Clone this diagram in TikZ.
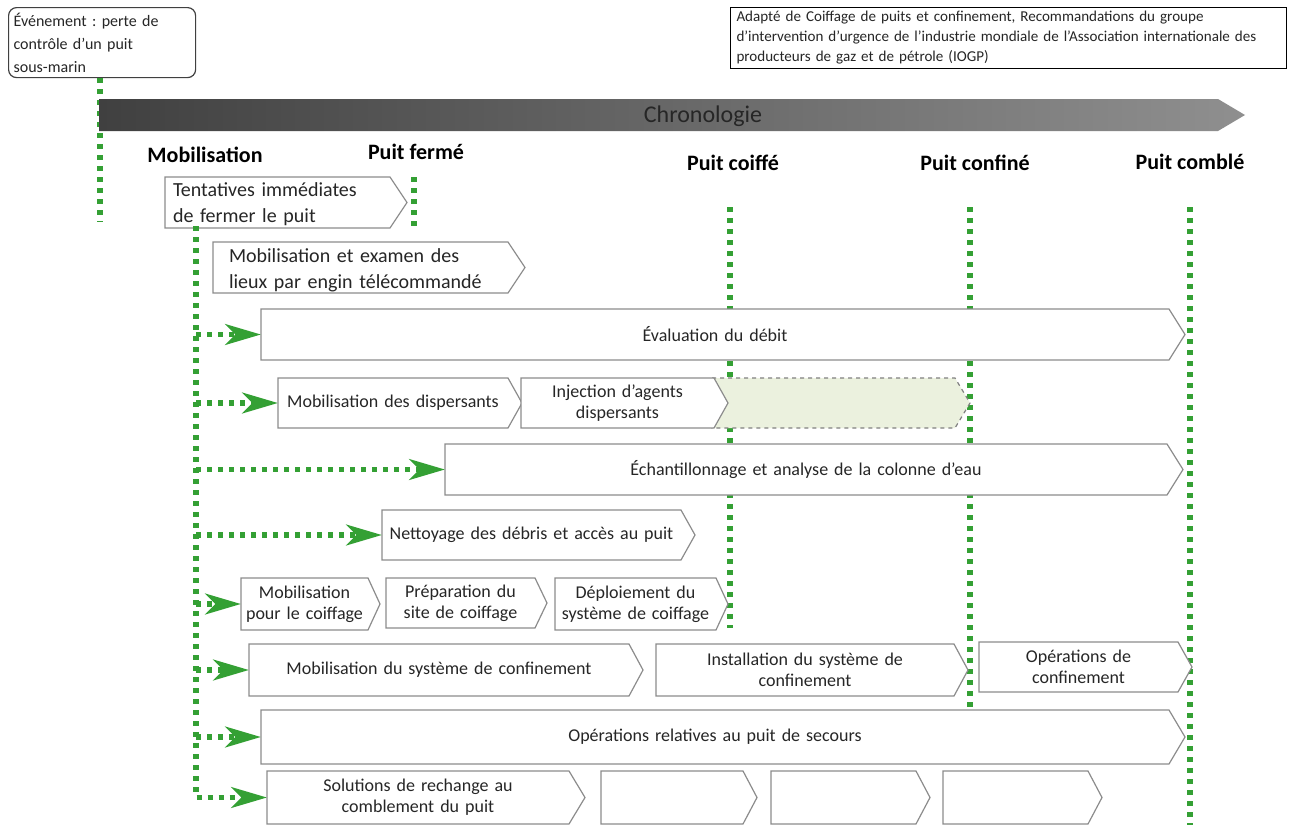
\documentclass[tikz,border=0pt]{standalone}
\usepackage{fontspec}
\setmainfont{Carlito}
\usetikzlibrary{arrows.meta}
\definecolor{grn}{RGB}{52,160,52}
\definecolor{boxgray}{RGB}{140,140,140}
\definecolor{txt}{RGB}{38,38,38}
\definecolor{lightgrn}{RGB}{235,241,222}
\definecolor{chrL}{RGB}{64,64,64}
\definecolor{chrR}{RGB}{143,143,143}
\frenchspacing

\tikzset{
  chevline/.style={draw=boxgray, fill=white, line width=0.9pt, line join=miter},
  greenbox/.style={draw=gray, fill=lightgrn, dashed},
  chevtext/.style={inner xsep=3pt, inner ysep=0pt, align=center, text=txt,
    font=\fontsize{13.5}{16}\selectfont},
  dotline/.style={draw=grn, line width=4pt, dash pattern=on 3.75pt off 4.5pt},
  flow/.style={dotline, -{Stealth[length=27pt,width=16pt,inset=8pt,line width=0pt]}},
  mile/.style={font=\bfseries\fontsize{16.5}{19}\selectfont, text=black, inner sep=0pt},
}

\newcommand\chev[9][]{%
  \pgfmathsetmacro\chevtw{(#5-#7-#3-8)*0.75}%
  \pgfmathsetmacro\chevmh{(#6-#4)*0.75}%
  \draw[chevline,#1] (#3,#4) -- ({#5-#7},#4) -- (#5,{(#4+#6)/2}) -- ({#5-#7},#6) -- (#3,#6) -- cycle;
  \node[chevtext, text width=\chevtw pt, minimum height=\chevmh pt, #8] (#2) at ({(#3+#5-#7)/2},{(#4+#6)/2}) {#9};
}

\begin{document}
\begin{tikzpicture}[x=0.75pt, y=-0.75pt]
\useasboundingbox (0,0) rectangle (1297,825);
\fill[white] (0,0) rectangle (1297,825);

% event and source
\node[draw=chrL, rounded corners=6pt, line width=0.9pt, anchor=north west,
  minimum width=140.25pt, minimum height=52.5pt, text width=132.75pt,
  inner xsep=3.75pt, inner ysep=0pt, align=left, text=txt,
  font=\fontsize{12}{17.25}\selectfont] (event) at (8,7)
  {Événement : perte de\\contrôle d’un puit\\sous-marin};
\node[draw=black, line width=0.75pt, anchor=north west,
  minimum width=416.25pt, minimum height=45.75pt, text width=408pt,
  inner xsep=4.5pt, inner ysep=0pt, align=left, text=txt,
  font=\fontsize{11.3}{15}\selectfont] (source) at (730,7)
  {Adapté de Coiffage de puits et confinement, Recommandations du groupe\\
   d’intervention d’urgence de l’industrie mondiale de l’Association internationale des\\
   producteurs de gaz et de pétrole (IOGP)};

\coordinate (eventEnd) at (100,222);
\draw[dotline] (event.south -| eventEnd) -- (eventEnd);

% chronology bar
\shade[left color=chrL, right color=chrR] (99,99) -- (1218,99) -- (1245,115) -- (1218,131) -- (99,131) -- cycle;
\node[font=\fontsize{18}{20}\selectfont, text=txt] (chrono) at (703,116) {Chronologie};

% milestones
\node[mile] (mob) at (205,155) {Mobilisation};
\node[mile] (closed) at (416,152) {Puit fermé};
\node[mile] (capped) at (733,163) {Puit coiffé};
\node[mile] (contained) at (975,163) {Puit confiné};
\node[mile] (killed) at (1190,162) {Puit comblé};

\draw[dotline] (414,177) -- (414,230);
\draw[dotline] (730,207) -- (730,628);
\draw[dotline] (970,207) -- (970,768);
\draw[dotline] (1190,207) -- (1190,825);

\coordinate (trunkTop) at (196,226);

% boxes
\chev{tent}{165}{177}{407}{228}{17}{align=left, xshift=3pt, yshift=-1.5pt, font=\fontsize{15}{19.5}\selectfont}{Tentatives immédiates\\de fermer le puit}
\chev{rov}{213}{242}{525}{293}{17}{align=left, xshift=9pt, yshift=-2pt, font=\fontsize{15}{19.5}\selectfont}{Mobilisation et examen des\\lieux par engin télécommandé}
\chev{eval}{261}{309}{1185}{360}{16}{}{Évaluation du débit}
\chev[greenbox]{gbox}{712}{378}{970}{428}{15}{}{}
\chev{disp}{278}{378}{522}{428}{14}{}{Mobilisation des dispersants}
\chev{inj}{521}{378}{728}{428}{14}{}{Injection d’agents\\dispersants}
\chev{samp}{445}{444}{1183}{495}{16}{}{Échantillonnage et analyse de la colonne d’eau}
\chev{clean}{382}{510}{695}{560}{14}{}{Nettoyage des débris et accès au puit}
\chev{mobcap}{241}{578}{380}{630}{12}{}{Mobilisation\\pour le coiffage}
\chev{prepcap}{386}{578}{547}{628}{12}{}{Préparation du\\site de coiffage}
\chev{depcap}{555}{578}{728}{630}{12}{}{Déploiement du\\système de coiffage}
\chev{mobcont}{249}{644}{643}{696}{14}{}{Mobilisation du système de confinement}
\chev{instcont}{656}{644}{968}{696}{14}{}{Installation du système de\\confinement}
\chev{opcont}{979}{642}{1192}{692}{14}{}{Opérations de\\confinement}
\chev{relief}{261}{710}{1185}{764}{16}{}{Opérations relatives au puit de secours}
\chev{sol}{267}{771}{585}{824}{16}{}{Solutions de rechange au\\comblement du puit}
\chev{alta}{601}{771}{757}{824}{14}{}{}
\chev{altb}{771}{771}{930}{824}{14}{}{}
\chev{altc}{943}{771}{1102}{824}{14}{}{}

% flows from the trunk
\draw[flow] (trunkTop) -- (trunkTop |- sol.west) -- (sol.west);
\draw[flow] (trunkTop |- eval.west) -- (eval.west);
\draw[flow] (trunkTop |- disp.west) -- (disp.west);
\draw[flow] (trunkTop |- samp.west) -- (samp.west);
\draw[flow] (trunkTop |- clean.west) -- (clean.west);
\draw[flow] (trunkTop |- mobcap.west) -- (mobcap.west);
\draw[flow] (trunkTop |- mobcont.west) -- (mobcont.west);
\draw[flow] (trunkTop |- relief.west) -- (relief.west);
\end{tikzpicture}
\end{document}
